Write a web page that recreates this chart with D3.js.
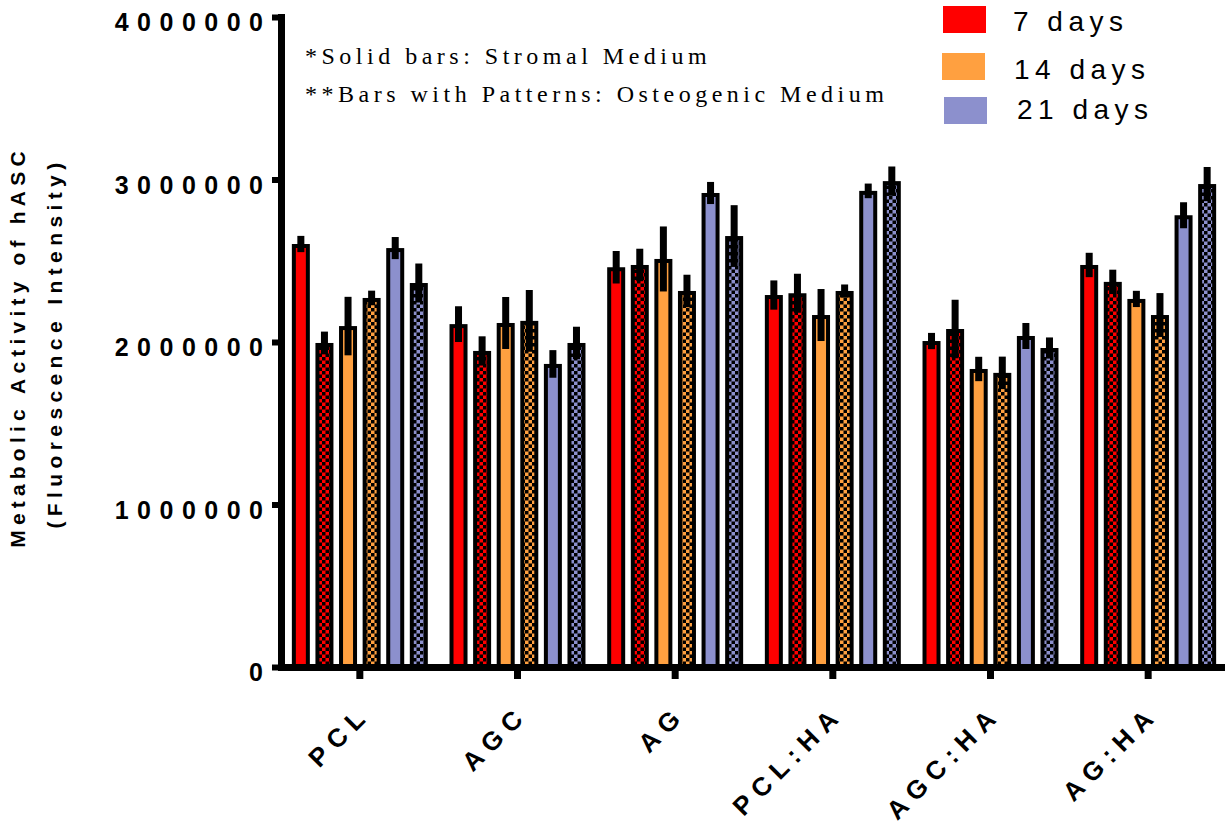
<!DOCTYPE html>
<html>
<head>
<meta charset="utf-8">
<script src="https://cdn.jsdelivr.net/npm/d3@7"></script>
<style>
  html, body { margin: 0; padding: 0; background: #fff; }
  svg { display: block; }
</style>
</head>
<body>
<svg id="chart" width="1225" height="828"></svg>
<script>
// Scaffold groups along the x axis
const groups = ["PCL", "AGC", "AG", "PCL:HA", "AGC:HA", "AG:HA"];

// Culture time points (legend)
const timeLabels = ["7 days", "14 days", "21 days"];
const timeColors = ["#FF0000", "#FFA040", "#8C90CD"];

// Y-axis tick values
const yTicks = [0, 1000000, 2000000, 3000000, 4000000];

// Mean fluorescence per scaffold: S = stromal medium (solid), O = osteogenic medium (patterned)
const day7S  = [2603000, 2110000, 2460000, 2289000, 2006000, 2474000];
const day7O  = [1994000, 1945000, 2474000, 2300000, 2080000, 2370000];
const day14S = [2098000, 2117000, 2511000, 2166000, 1834000, 2265000];
const day14O = [2271000, 2130000, 2314000, 2314000, 1810000, 2166000];
const day21S = [2578000, 1865000, 2917000, 2930000, 2037000, 2780000];
const day21O = [2363000, 1994000, 2652000, 2990000, 1963000, 2972000];

// Standard deviations, same order
const sd7S  = [50000, 110000, 100000, 90000, 50000, 75000];
const sd7O  = [70000, 90000, 100000, 120000, 180000, 75000];
const sd14S = [180000, 160000, 200000, 160000, 75000, 50000];
const sd14O = [45000, 190000, 100000, 40000, 100000, 135000];
const sd21S = [68000, 85000, 68000, 45000, 80000, 80000];
const sd21O = [120000, 100000, 190000, 90000, 65000, 105000];

const series = [
  { key: "d7S",  time: 0, patterned: false, values: day7S,  sd: sd7S },
  { key: "d7O",  time: 0, patterned: true,  values: day7O,  sd: sd7O },
  { key: "d14S", time: 1, patterned: false, values: day14S, sd: sd14S },
  { key: "d14O", time: 1, patterned: true,  values: day14O, sd: sd14O },
  { key: "d21S", time: 2, patterned: false, values: day21S, sd: sd21S },
  { key: "d21O", time: 2, patterned: true,  values: day21O, sd: sd21O }
];

const svg = d3.select("#chart");

// Checkerboard fills for the osteogenic-medium bars
const defs = svg.append("defs");
timeColors.forEach((c, i) => {
  const p = defs.append("pattern")
    .attr("id", "check" + i)
    .attr("patternUnits", "userSpaceOnUse")
    .attr("width", 7).attr("height", 7);
  p.append("rect").attr("width", 7).attr("height", 7).attr("fill", c);
  p.append("rect").attr("x", 0).attr("y", 0).attr("width", 3.5).attr("height", 3.5).attr("fill", "#000");
  p.append("rect").attr("x", 3.5).attr("y", 3.5).attr("width", 3.5).attr("height", 3.5).attr("fill", "#000");
});

const x0 = d3.scaleBand().domain(groups).range([281, 1227]).paddingInner(0).paddingOuter(0);
const x1 = d3.scaleBand().domain(series.map(s => s.key)).range([0, x0.bandwidth()])
  .paddingInner(0.237).paddingOuter(0.46);
const y = d3.scaleLinear().domain([0, 4000000]).range([667, 17]);

// Bars
const barStroke = 4;
const gBars = svg.append("g");
series.forEach(s => {
  gBars.selectAll(null)
    .data(groups.map((g, i) => ({ g, v: s.values[i], sd: s.sd[i] })))
    .join("rect")
    .attr("x", d => x0(d.g) + x1(s.key) + barStroke / 2)
    .attr("width", x1.bandwidth() - barStroke)
    .attr("y", d => y(d.v) + barStroke / 2)
    .attr("height", d => y(0) - y(d.v) - barStroke / 2)
    .attr("fill", s.patterned ? `url(#check${s.time})` : timeColors[s.time])
    .attr("stroke", "#000")
    .attr("stroke-width", barStroke);
});

// Error bars (mean ± SD)
const gErr = svg.append("g");
series.forEach(s => {
  gErr.selectAll(null)
    .data(groups.map((g, i) => ({ g, v: s.values[i], sd: s.sd[i] })))
    .join("rect")
    .attr("x", d => x0(d.g) + x1(s.key) + x1.bandwidth() / 2 - 3.5)
    .attr("width", 7)
    .attr("y", d => y(d.v + d.sd))
    .attr("height", d => y(d.v - d.sd) - y(d.v + d.sd))
    .attr("fill", "#000");
});

// Y axis
const yAxis = svg.append("g")
  .attr("transform", "translate(281,0)")
  .call(d3.axisLeft(y).tickValues(yTicks).tickSize(9).tickSizeOuter(0).tickFormat(d3.format("d")));
yAxis.select(".domain").attr("stroke-width", 7).attr("stroke-linecap", "square");
yAxis.selectAll(".tick line").attr("stroke-width", 6);
yAxis.selectAll(".tick text")
  .attr("x", -9.5)
  .attr("dy", "0.55em")
  .style("font-family", "'Liberation Sans', Arial, sans-serif")
  .style("font-weight", "bold")
  .style("font-size", "25px")
  .style("letter-spacing", "8.5px")
  .attr("fill", "#000");

// X axis
const xAxis = svg.append("g")
  .attr("transform", "translate(0,667)")
  .call(d3.axisBottom(x0).tickSize(12).tickSizeOuter(0));
xAxis.select(".domain").attr("stroke-width", 7);
xAxis.selectAll(".tick line").attr("stroke-width", 7);
xAxis.selectAll(".tick text")
  .attr("y", null).attr("dy", null)
  .attr("transform", "translate(12,49) rotate(-45)")
  .attr("text-anchor", "end")
  .style("font-family", "'Liberation Sans', Arial, sans-serif")
  .style("font-weight", "bold")
  .style("font-size", "26px")
  .style("letter-spacing", "7.5px")
  .attr("fill", "#000");

// Y axis title
const titleFont = "'Liberation Sans', Arial, sans-serif";
svg.append("text")
  .attr("transform", "translate(25,347) rotate(-90)")
  .attr("text-anchor", "middle")
  .style("font-family", titleFont).style("font-weight", "bold")
  .style("font-size", "21px").style("letter-spacing", "5.2px")
  .text("Metabolic Activity of hASC");
svg.append("text")
  .attr("transform", "translate(62,343) rotate(-90)")
  .attr("text-anchor", "middle")
  .style("font-family", titleFont).style("font-weight", "bold")
  .style("font-size", "21px").style("letter-spacing", "5.4px")
  .text("(Fluorescence Intensity)");

// Medium notes
const notes = ["*Solid bars: Stromal Medium", "**Bars with Patterns: Osteogenic Medium"];
svg.selectAll(".note").data(notes).join("text")
  .attr("class", "note")
  .attr("x", 305)
  .attr("y", (d, i) => 64 + i * 38)
  .style("font-family", "'Liberation Serif', 'Times New Roman', serif")
  .style("font-size", "24px")
  .style("letter-spacing", "4.5px")
  .text(d => d);

// Legend
const legendRows = [
  { rx: 943, ry: 6, tx: 1013, ty: 31 },
  { rx: 942, ry: 53, tx: 1014, ty: 79 },
  { rx: 944, ry: 97, tx: 1017, ty: 119 }
];
const legend = svg.append("g");
timeLabels.forEach((lab, i) => {
  const r = legendRows[i];
  legend.append("rect")
    .attr("x", r.rx).attr("y", r.ry).attr("width", 43).attr("height", 27)
    .attr("fill", timeColors[i]);
  legend.append("text")
    .attr("x", r.tx).attr("y", r.ty)
    .style("font-family", "'Liberation Sans', Arial, sans-serif")
    .style("font-size", "28px")
    .style("letter-spacing", "5.5px")
    .text(lab);
});
</script>
</body>
</html>
